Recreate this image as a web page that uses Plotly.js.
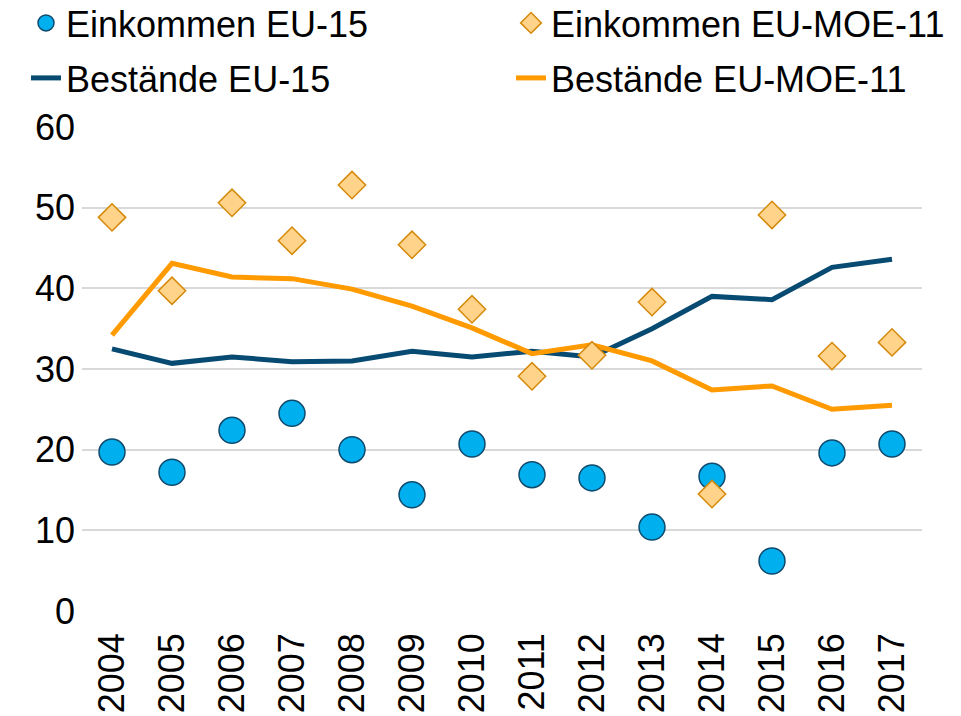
<!DOCTYPE html>
<html>
<head>
<meta charset="utf-8">
<script src="https://cdn.plot.ly/plotly-3.0.1.min.js"></script>
<style>html,body{margin:0;padding:0;background:#fff;}#chart{width:961px;height:716px;}</style>
</head>
<body>
<div id="chart"></div>
<script>
const years = ['2004','2005','2006','2007','2008','2009','2010','2011','2012','2013','2014','2015','2016','2017'];
const einkommenEU15 = [19.7, 17.2, 22.4, 24.5, 20.0, 14.4, 20.7, 16.9, 16.5, 10.4, 16.7, 6.2, 19.6, 20.7];
const einkommenMOE11 = [48.8, 39.7, 50.6, 45.9, 52.8, 45.4, 37.4, 29.1, 31.7, 38.3, 14.5, 49.1, 31.6, 33.3];
const bestaendeEU15 = [32.5, 30.7, 31.5, 30.9, 31.0, 32.2, 31.5, 32.2, 31.5, 35.0, 39.0, 38.6, 42.6, 43.6];
const bestaendeMOE11 = [34.2, 43.1, 41.4, 41.2, 39.9, 37.8, 35.1, 31.9, 33.0, 31.0, 27.4, 27.9, 25.0, 25.5];

const font = 'Liberation Sans, Arial, sans-serif';

const traces = [
  {x: years, y: bestaendeEU15, type: 'scatter', mode: 'lines', name: 'Bestände EU-15',
   line: {color: '#074A72', width: 5}, legend: 'legend3'},
  {x: years, y: bestaendeMOE11, type: 'scatter', mode: 'lines', name: 'Bestände EU-MOE-11',
   line: {color: '#FF9A00', width: 5}, legend: 'legend4'},
  {x: years, y: einkommenEU15, type: 'scatter', mode: 'markers', name: 'Einkommen EU-15',
   marker: {symbol: 'circle', size: 26, color: '#00B0EE', line: {color: '#0E4A6E', width: 1.5}}, legend: 'legend'},
  {x: years, y: einkommenMOE11, type: 'scatter', mode: 'markers', name: 'Einkommen EU-MOE-11',
   marker: {symbol: 'diamond', size: 21, color: '#FFD38A', line: {color: '#D4890A', width: 1.5}}, legend: 'legend2'}
];

function leg(xpx, ypx) {
  return {
    orientation: 'v', xanchor: 'left', yanchor: 'middle',
    xref: 'container', yref: 'container',
    x: xpx / 961, y: 1 - ypx / 716,
    font: {family: font, size: 36, color: '#000'},
    bgcolor: 'rgba(0,0,0,0)', itemsizing: 'trace'
  };
}

const layout = {
  width: 961, height: 716,
  margin: {l: 82, r: 39, t: 127, b: 105, autoexpand: false},
  paper_bgcolor: '#fff', plot_bgcolor: '#fff',
  font: {family: font, size: 36, color: '#000'},
  showlegend: true,
  legend: leg(26, 23),
  legend2: leg(511, 23),
  legend3: leg(26, 78),
  legend4: leg(511, 78),
  xaxis: {
    type: 'category', tickangle: -90, showgrid: false, zeroline: false, automargin: false,
    showline: false, ticks: '', ticklabelstandoff: 14,
    tickfont: {family: font, size: 36, color: '#000'},
    range: [-0.5, 13.5]
  },
  yaxis: {
    range: [0, 60], dtick: 10, showgrid: true, gridcolor: '#D9D9D9', gridwidth: 2, automargin: false,
    zeroline: false, showline: false, ticks: '', ticklabelstandoff: 6,
    tickfont: {family: font, size: 36, color: '#000'}
  }
};

Plotly.newPlot('chart', traces, layout, {displayModeBar: false, staticPlot: true});
</script>
</body>
</html>
